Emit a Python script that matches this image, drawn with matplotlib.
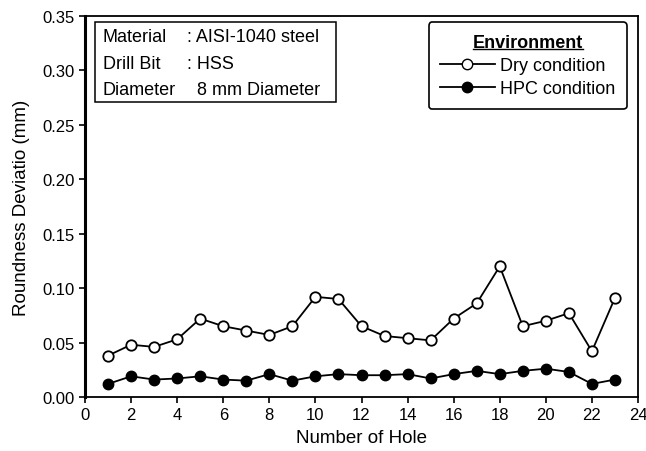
import matplotlib
matplotlib.use("Agg")
import matplotlib.pyplot as plt
from matplotlib.lines import Line2D
from matplotlib.patches import Rectangle

plt.rcParams['font.family'] = ['Liberation Sans', 'DejaVu Sans']

holes = list(range(1, 24))
dry = [0.038, 0.048, 0.046, 0.053, 0.072, 0.065, 0.061, 0.057, 0.065, 0.092,
       0.090, 0.065, 0.056, 0.054, 0.052, 0.072, 0.086, 0.120, 0.065, 0.070,
       0.077, 0.042, 0.091]
hpc = [0.012, 0.019, 0.016, 0.017, 0.019, 0.016, 0.015, 0.021, 0.015, 0.019,
       0.021, 0.020, 0.020, 0.021, 0.017, 0.021, 0.024, 0.021, 0.024, 0.026,
       0.023, 0.012, 0.016]
xticks = list(range(0, 25, 2))
yticks = [0.00, 0.05, 0.10, 0.15, 0.20, 0.25, 0.30, 0.35]
info_keys = ['Material', 'Drill Bit', 'Diameter']
info_vals = [': AISI-1040 steel', ': HSS', '  8 mm Diameter']

fig = plt.figure(figsize=(6.46, 4.52), dpi=100)
ax = fig.add_axes([0.1316, 0.1195, 0.856, 0.843])

ax.plot(holes, dry, color='black', lw=1.3, marker='o', ms=7.5,
        mfc='white', mec='black', mew=1.3)
ax.plot(holes, hpc, color='black', lw=1.3, marker='o', ms=7.5,
        mfc='black', mec='black')

ax.set_xlim(0, 24)
ax.set_ylim(0, 0.35)
ax.set_xticks(xticks)
ax.set_yticks(yticks)
ax.set_yticklabels(['%.2f' % v for v in yticks])
ax.tick_params(direction='out', length=4, width=1.2, labelsize=12)
for s in ax.spines.values():
    s.set_linewidth(1.3)
ax.spines['left'].set_linewidth(2.2)

ax.set_xlabel('Number of Hole', fontsize=13.5)
ax.set_ylabel('Roundness Deviatio (mm)', fontsize=13.5)
ax.xaxis.set_label_coords(0.5, -0.085)
ax.yaxis.set_label_coords(-0.1, 0.5)

# info box
ax.add_patch(Rectangle((0.018, 0.774), 0.436, 0.21, transform=ax.transAxes,
                       fc='white', ec='black', lw=1.1, zorder=3))
for i, (k, v) in enumerate(zip(info_keys, info_vals)):
    yy = 0.945 - i * 0.069
    ax.text(0.032, yy, k, transform=ax.transAxes, va='center', ha='left',
            fontsize=13, zorder=4)
    ax.text(0.184, yy, v, transform=ax.transAxes, va='center', ha='left',
            fontsize=13, zorder=4)

handles = [Line2D([], [], color='black', lw=1.3, marker='o', ms=7.5,
                  mfc='white', mec='black'),
           Line2D([], [], color='black', lw=1.3, marker='o', ms=7.5,
                  mfc='black', mec='black')]
leg = ax.legend(handles, ['Dry condition', 'HPC condition'],
                title='Environment', loc='upper right',
                bbox_to_anchor=(0.98, 0.984), borderaxespad=0,
                fontsize=13, title_fontsize=13,
                frameon=True, fancybox=True, edgecolor='black', framealpha=1,
                handlelength=3.0, handletextpad=0.3, borderpad=0.65,
                labelspacing=0.35)
leg.get_title().set_fontweight('bold')
leg.get_frame().set_linewidth(1.2)

# underline the legend title
fig.canvas.draw()
bb = leg.get_title().get_window_extent().transformed(fig.transFigure.inverted())
fig.add_artist(Line2D([bb.x0, bb.x1], [bb.y0 + 0.003, bb.y0 + 0.003],
                      color='black', lw=1, transform=fig.transFigure))

fig.savefig('out.png', dpi=100)
